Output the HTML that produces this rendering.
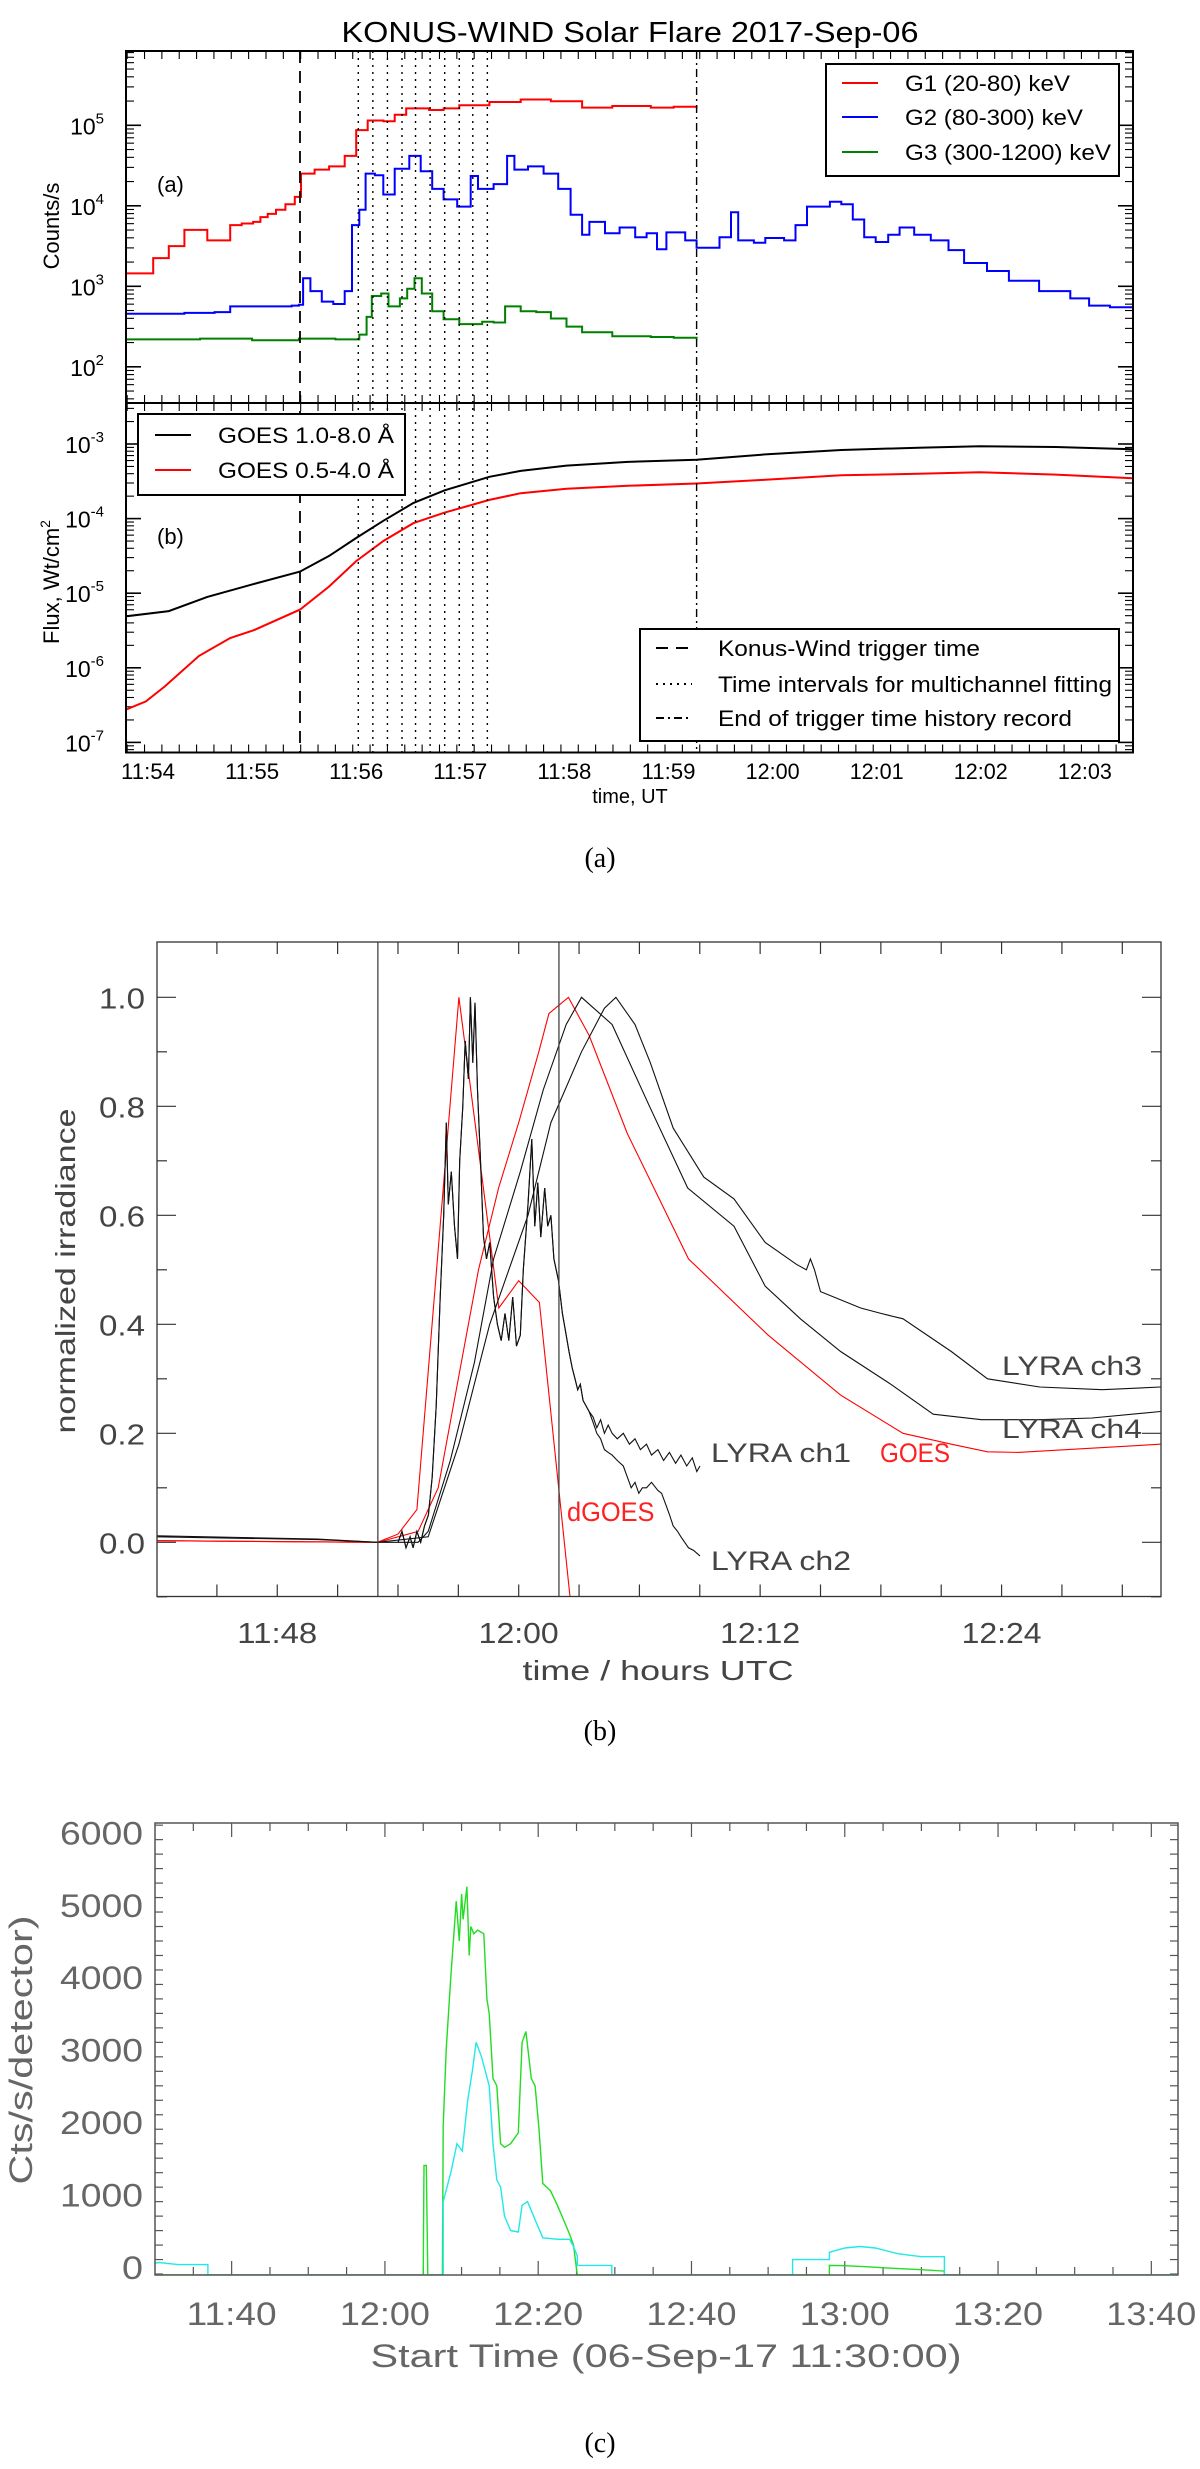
<!DOCTYPE html>
<html><head><meta charset="utf-8">
<style>
html,body{margin:0;padding:0;background:#fff;}
svg{display:block;}
text{font-family:"Liberation Sans",Arial,sans-serif;}
.cap{font-family:"Liberation Serif","Times New Roman",serif;font-size:28px;fill:#000;}
</style></head>
<body>
<svg id="fig" xmlns="http://www.w3.org/2000/svg" width="1200" height="2469" viewBox="0 0 1200 2469">
  <rect x="0" y="0" width="1200" height="2469" fill="#fff"/>
  <defs>
    <clipPath id="clipA1"><rect x="126" y="51" width="1007" height="352"/></clipPath>
    <clipPath id="clipA2"><rect x="126" y="403" width="1007" height="350"/></clipPath>
    <clipPath id="clipB"><rect x="157" y="942" width="1004" height="655"/></clipPath>
    <clipPath id="clipC"><rect x="155" y="1823" width="1023" height="452"/></clipPath>
  </defs>
  <g id="panelA"></g>
  <g id="panelB"></g>
  <g id="panelC"></g>
  <text class="cap" x="600" y="867" text-anchor="middle">(a)</text>
  <text class="cap" x="600" y="1740" text-anchor="middle">(b)</text>
  <text class="cap" x="600" y="2452" text-anchor="middle">(c)</text>
</svg>
<script>
// ===== Panel A data (minutes since 11:54, log10 values) =====
const g1Time=[-0.21,0.05,0.2,0.35,0.51,0.57,0.71,0.79,0.9,1.01,1.08,1.15,1.23,1.32,1.41,1.47,1.60,1.74,1.89,2.00,2.11,2.26,2.37,2.48,2.70,2.84,2.99,3.28,3.58,3.87,4.17,4.46,4.83,5.05,5.27];
const g1Log=[3.16,3.35,3.5,3.70,3.70,3.57,3.57,3.76,3.78,3.80,3.86,3.9,3.95,4.02,4.11,4.40,4.45,4.49,4.62,4.94,5.06,5.05,5.13,5.21,5.19,5.21,5.25,5.29,5.32,5.30,5.22,5.24,5.22,5.23,5.21];
const g2Time=[-0.21,0.35,0.64,0.79,1.08,1.38,1.45,1.49,1.56,1.67,1.78,1.89,1.96,2.03,2.09,2.18,2.26,2.37,2.51,2.62,2.73,2.84,2.97,3.10,3.17,3.32,3.45,3.52,3.65,3.80,3.94,4.06,4.17,4.24,4.39,4.53,4.68,4.79,4.89,4.98,5.16,5.27,5.49,5.60,5.67,5.82,5.93,6.11,6.22,6.33,6.55,6.66,6.77,6.88,6.99,7.11,7.22,7.36,7.52,7.69,7.84,8.06,8.27,8.56,8.86,9.04,9.24,9.46];
const g2Log=[2.66,2.67,2.68,2.75,2.75,2.76,2.77,3.10,2.94,2.81,2.78,2.94,3.76,3.95,4.40,4.38,4.14,4.46,4.62,4.43,4.21,4.08,3.99,4.37,4.21,4.27,4.62,4.45,4.49,4.40,4.21,3.89,3.64,3.80,3.66,3.73,3.61,3.66,3.46,3.67,3.57,3.48,3.61,3.92,3.57,3.54,3.60,3.57,3.76,3.99,4.05,4.02,3.83,3.61,3.55,3.64,3.73,3.64,3.57,3.45,3.29,3.19,3.07,2.94,2.85,2.76,2.74,2.72];
const g3Time=[-0.21,0.5,1.0,1.45,1.8,2.03,2.10,2.15,2.24,2.31,2.42,2.49,2.56,2.63,2.73,2.84,2.99,3.21,3.32,3.43,3.58,3.73,3.87,4.02,4.17,4.46,4.83,5.05,5.27];
const g3Log=[2.34,2.35,2.33,2.35,2.34,2.40,2.62,2.88,2.91,2.75,2.85,2.97,3.10,2.91,2.69,2.59,2.53,2.56,2.55,2.75,2.69,2.68,2.60,2.50,2.43,2.38,2.37,2.36,2.34];
const goesLongTime=[-0.21,0.20,0.57,1.01,1.46,1.74,2.00,2.26,2.55,2.85,3.28,3.58,4.02,4.61,5.27,5.93,6.66,7.40,7.99,8.72,9.46];
const goesLongLog=[-5.31,-5.24,-5.05,-4.88,-4.71,-4.50,-4.26,-4.03,-3.79,-3.62,-3.44,-3.36,-3.29,-3.24,-3.21,-3.14,-3.08,-3.05,-3.03,-3.04,-3.07];
const goesShortTime=[-0.21,-0.02,0.16,0.49,0.79,1.01,1.46,1.74,2.00,2.26,2.55,2.85,3.28,3.58,4.02,4.61,5.27,5.93,6.66,7.40,7.99,8.72,9.46];
const goesShortLog=[-6.56,-6.45,-6.25,-5.84,-5.60,-5.50,-5.22,-4.91,-4.57,-4.30,-4.06,-3.92,-3.75,-3.66,-3.60,-3.56,-3.53,-3.48,-3.42,-3.40,-3.38,-3.41,-3.46];
const xTicksA=['11:54','11:55','11:56','11:57','11:58','11:59','12:00','12:01','12:02','12:03'];
const decadesTop=[2,3,4,5];
const decadesBot=[-7,-6,-5,-4,-3];
const triggerMin=[1.46];
const fitIntervals=[2.02,2.16,2.30,2.44,2.57,2.71,2.85,2.99,3.12,3.26];
const endRecordMin=[5.27];

// ===== Panel B data (minutes since 12:00, normalized) =====
const ch12Time=[-6.0,-5.8,-5.6,-5.4,-5.25,-5.06,-4.87,-4.68,-4.49,-4.3,-4.1,-3.9,-3.73,-3.6,-3.5,-3.35,-3.19,-3.04,-2.93,-2.78,-2.66,-2.5,-2.4,-2.28,-2.17,-2.05,-1.9,-1.75,-1.6,-1.44,-1.25,-1.06,-0.87,-0.68,-0.49,-0.3,-0.11,0.08,0.23,0.46,0.65,0.8,0.95,1.1,1.29,1.44,1.6,1.75,1.98,2.17,2.36,2.5,2.66,2.8,2.93,3.06,3.2,3.35,3.5];
const ch12Val=[0.0,0.02,-0.01,0.01,-0.01,0.02,0.0,0.03,0.05,0.12,0.25,0.45,0.6,0.77,0.62,0.68,0.58,0.52,0.7,0.8,0.92,0.85,1.0,0.88,0.99,0.83,0.7,0.56,0.52,0.55,0.45,0.4,0.37,0.42,0.37,0.45,0.36,0.38,0.5,0.62,0.74,0.58,0.66,0.56,0.65,0.58,0.6,0.52,0.48,0.42,0.38,0.35,0.32,0.3,0.28,0.29,0.26,0.25,0.24];
const ch1TailTime=[3.7,3.88,4.07,4.26,4.45,4.64,4.9,5.2,5.5,5.78,6.05,6.35,6.6,6.92,7.2,7.49,7.8,8.06,8.35,8.63,8.85,9.01];
const ch1TailVal=[0.23,0.21,0.225,0.2,0.215,0.2,0.19,0.2,0.18,0.19,0.17,0.18,0.16,0.17,0.15,0.165,0.145,0.16,0.14,0.155,0.13,0.14];
const ch2TailTime=[3.7,3.88,4.07,4.26,4.45,4.64,4.9,5.2,5.4,5.59,5.78,5.97,6.15,6.35,6.6,6.92,7.1,7.3,7.5,7.68,7.9,8.06,8.25,8.44,8.7,9.01];
const ch2TailVal=[0.22,0.2,0.19,0.17,0.165,0.16,0.15,0.14,0.12,0.1,0.11,0.09,0.1,0.1,0.11,0.095,0.09,0.07,0.05,0.03,0.02,0.01,0.0,-0.01,-0.015,-0.025];
const ch3Time=[-18,-10,-7,-4.5,-2.97,-1.44,0.46,1.6,3.12,4.26,4.83,5.78,6.54,7.68,9.2,10.7,12.25,13.8,14.3,14.5,14.7,15.0,17.0,18.0,19.1,21.5,23.3,25.9,29.0,31.9];
const ch3Val=[0.012,0.006,0.0,0.01,0.18,0.4,0.6,0.77,0.9,0.98,1.0,0.95,0.88,0.76,0.67,0.63,0.55,0.51,0.5,0.52,0.5,0.46,0.43,0.42,0.41,0.35,0.3,0.285,0.28,0.285];
const ch4Time=[-18,-10,-7,-5,-4.5,-3.4,-2.2,-1.25,0.08,1.22,2.36,3.12,4.64,6.5,8.4,10.7,12.25,14.0,16.0,18.5,20.6,23.0,25.9,28.5,31.9];
const ch4Val=[0.01,0.005,0.0,0.0,0.02,0.15,0.33,0.52,0.68,0.83,0.95,1.0,0.95,0.8,0.65,0.58,0.47,0.41,0.35,0.29,0.235,0.225,0.225,0.228,0.24];
const goesNormTime=[-18,-7,-5,-4,-3,-2,-1,0,1,1.5,2.47,3.5,5.4,8.44,12.4,16.0,19.1,21.5,23.3,24.8,31.9];
const goesNormVal=[0.003,0.0,0.02,0.1,0.3,0.5,0.65,0.77,0.9,0.97,1.0,0.93,0.75,0.52,0.38,0.27,0.2,0.18,0.166,0.165,0.18];
const dGoesTime=[-18,-7.03,-6.0,-5.06,-2.97,-0.99,0.0,1.03,2.55,3.2];
const dGoesVal=[0.003,0.0,0.015,0.06,1.0,0.43,0.48,0.44,-0.1,-0.3];
const xTicksB=['11:48','12:00','12:12','12:24'];
const xTicksBMin=[-12,0,12,24];
const yTicksB=[0.0,0.2,0.4,0.6,0.8,1.0];
const markerLinesB=[-7.0,2.0];

// ===== Panel C data (minutes since 11:30, counts) =====
const greenTime=[0,6.9,6.9,35.0,35.1,35.4,35.6,37.5,37.6,38.0,38.6,39.0,39.3,39.7,40.0,40.2,40.7,41.0,41.2,41.6,42.1,42.9,43.3,43.6,44.1,44.6,45.1,45.6,46.4,47.4,47.9,48.4,49.1,49.6,50.1,50.6,51.6,52.5,53.1,54.1,54.6,55.1,59.6,83.2,88.0,88.0,90,93,96,100,103,103,133.5];
const greenVal=[-113,-113,-113,-113,1400,1400,-113,-113,1950,3000,4000,4600,5050,4500,5150,4800,5250,4300,4700,4600,4650,4600,3700,3500,2600,2500,1700,1650,1700,1850,3100,3250,2600,2500,1900,1150,1050,850,700,450,300,-113,-113,-113,-113,20,15,0,-20,-40,-60,-113,-113];
const cyanTime=[0,0.5,3,6.9,6.9,37.6,37.6,38.6,39.4,40.1,40.8,41.4,41.9,42.6,43.6,44.1,44.6,45.1,45.6,46.4,47.4,47.9,48.6,49.6,50.6,52.6,54.1,54.6,55.1,55.1,59.6,59.6,83.2,83.2,88.0,88.0,90,92,94,97,100,103,103,133.5];
const cyanVal=[50,60,30,30,-113,-113,900,1300,1700,1600,2300,2700,3100,2900,2500,1700,1200,1100,700,500,480,850,900,650,400,380,380,280,150,20,20,-113,-113,100,100,200,260,280,260,180,140,140,-113,-113];
const yTicksC=[0,1000,2000,3000,4000,5000,6000];
const xTicksC=['11:40','12:00','12:20','12:40','13:00','13:20','13:40'];
const xTicksCMin=[10,30,50,70,90,110,130];

const NS='http://www.w3.org/2000/svg';
function mk(tag,attrs,parent){const e=document.createElementNS(NS,tag);for(const k in attrs)e.setAttribute(k,attrs[k]);parent.appendChild(e);return e;}
function pathLine(xs,ys,fx,fy){let d='';for(let i=0;i<xs.length;i++){d+=(i?'L':'M')+fx(xs[i]).toFixed(1)+' '+fy(ys[i]).toFixed(1);}return d;}
function pathStep(xs,ys,fx,fy){let d='M'+fx(xs[0]).toFixed(1)+' '+fy(ys[0]).toFixed(1);for(let i=1;i<xs.length;i++){d+='H'+fx(xs[i]).toFixed(1)+'V'+fy(ys[i]).toFixed(1);}return d;}

// ================= PANEL A =================
const A=document.getElementById('panelA');
const xA=m=>148+m*104.1;
const yA1=l=>125.3+(5-l)*80.5;
const yA2=l=>444+(-3-l)*74.6;
const AL=126,AR=1133,AT=51,AM=403,AB=752.5;

let t=mk('text',{x:630,y:42,'text-anchor':'middle','font-size':29,textLength:577,lengthAdjust:'spacingAndGlyphs',fill:'#000'},A);
t.textContent='KONUS-WIND Solar Flare 2017-Sep-06';



for(let s=-12;s<=567;s+=10){
  const m=s/60,x=xA(m);if(x<AL||x>AR)continue;
  const major=(s%60===0);const L=major?15:8;
  for(const [y0,dir] of [[AT,1],[AM,-1],[AM,1],[AB,-1]]){
    const tk=mk('line',{x1:x,y1:y0,x2:x,y2:y0+dir*L,stroke:'#000','stroke-width':major?1.6:1.1},A);
    
    
  }
}
xTicksA.forEach((lab,i)=>{
  const tl=mk('text',{x:xA(i),y:779,'text-anchor':'middle','font-size':22,textLength:54,lengthAdjust:'spacingAndGlyphs',fill:'#000'},A);
  tl.textContent=lab;
  
  
});
t=mk('text',{x:630,y:803,'text-anchor':'middle','font-size':20,fill:'#000'},A);
t.textContent='time, UT';



function logTicks(fy,lo,hi,top,bot,decades){
  for(let d=lo;d<=hi;d++){
    for(let k=1;k<=9;k++){
      const y=fy(d+Math.log10(k));if(y<top-0.5||y>bot+0.5)continue;
      const L=k===1?15:8;
      for(const [x0,dir] of [[AL,1],[AR,-1]]){
        const tk=mk('line',{x1:x0,y1:y,x2:x0+dir*L,y2:y,stroke:'#000','stroke-width':k===1?1.6:1.1},A);
        
        
      }
    }
  }
  decades.forEach(d=>{
    const tl=mk('text',{x:104,y:fy(d)+9,'text-anchor':'end','font-size':23,fill:'#000'},A);
    tl.textContent='10';
    const sp=mk('tspan',{dy:-11,'font-size':15},tl);sp.textContent=String(d);
    
    
  });
}
logTicks(yA1,1,6,AT,AM,decadesTop);
logTicks(yA2,-8,-2,AM,AB,decadesBot);

t=mk('text',{transform:'translate(59,226) rotate(-90)','text-anchor':'middle','font-size':22,fill:'#000'},A);
t.textContent='Counts/s';


t=mk('text',{transform:'translate(59,582) rotate(-90)','text-anchor':'middle','font-size':22,fill:'#000'},A);
t.textContent='Flux, Wt/cm';
let sp=mk('tspan',{dy:-9,'font-size':14},t);sp.textContent='2';



const gA1=mk('g',{'clip-path':'url(#clipA1)'},A);


[[g1Time,g1Log,'#ff0000','g1-series'],[g2Time,g2Log,'#0000ff','g2-series'],[g3Time,g3Log,'#008000','g3-series']].forEach(([xs,ys,c,n])=>{
  const p=mk('path',{d:pathStep(xs,ys,xA,yA1),fill:'none',stroke:c,'stroke-width':2},gA1);
  
  
});
const gA2=mk('g',{'clip-path':'url(#clipA2)'},A);


[[goesLongTime,goesLongLog,'#000','goes-long-series'],[goesShortTime,goesShortLog,'#ff0000','goes-short-series']].forEach(([xs,ys,c,n])=>{
  const p=mk('path',{d:pathLine(xs,ys,xA,yA2),fill:'none',stroke:c,'stroke-width':2},gA2);
  
  
});
triggerMin.forEach(m=>{
  const l=mk('line',{x1:xA(m),y1:AT,x2:xA(m),y2:AB,stroke:'#000','stroke-width':1.8,'stroke-dasharray':'12,8'},A);
  
  
});
fitIntervals.forEach(m=>{
  const l=mk('line',{x1:xA(m),y1:AT,x2:xA(m),y2:AB,stroke:'#000','stroke-width':1.4,'stroke-dasharray':'2,5'},A);
  
  
});
endRecordMin.forEach(m=>{
  const l=mk('line',{x1:xA(m),y1:AT,x2:xA(m),y2:AB,stroke:'#000','stroke-width':1.4,'stroke-dasharray':'8,4,2,4'},A);
  
  
});
let f=mk('rect',{x:AL,y:AT,width:AR-AL,height:AB-AT,fill:'none',stroke:'#000','stroke-width':2},A);


f=mk('line',{x1:AL,y1:AM,x2:AR,y2:AM,stroke:'#000','stroke-width':2},A);


t=mk('text',{x:157,y:192,'font-size':22,fill:'#000'},A);t.textContent='(a)';


t=mk('text',{x:157,y:544,'font-size':22,fill:'#000'},A);t.textContent='(b)';



function legend(box,items,name){
  const g=mk('g',{},A);
  
  
  const r=mk('rect',{x:box[0],y:box[1],width:box[2]-box[0],height:box[3]-box[1],fill:'#fff',stroke:'#000','stroke-width':2},g);
  
  
  items.forEach(it=>{
    const ln=mk('line',{x1:it.lx1,y1:it.y,x2:it.lx2,y2:it.y,stroke:it.c,'stroke-width':2,'stroke-dasharray':it.dash||'none'},g);
    
    
    const tx=mk('text',{x:it.tx,y:it.y+8,'font-size':22,fill:'#000'},g);
    if(it.tl){tx.setAttribute('textLength',it.tl);tx.setAttribute('lengthAdjust','spacingAndGlyphs');}
    tx.textContent=it.t;
    
    
  });
}
legend([826,64,1119,176],[
 {lx1:842,lx2:878,y:83,c:'#ff0000',tx:905,t:'G1 (20-80) keV',tl:165},
 {lx1:842,lx2:878,y:117,c:'#0000ff',tx:905,t:'G2 (80-300) keV',tl:178},
 {lx1:842,lx2:878,y:152,c:'#008000',tx:905,t:'G3 (300-1200) keV',tl:206}],'legend-konus');
legend([138,414,405,495],[
 {lx1:155,lx2:191,y:435,c:'#000',tx:218,t:'GOES 1.0-8.0 Å',tl:176},
 {lx1:155,lx2:191,y:470,c:'#ff0000',tx:218,t:'GOES 0.5-4.0 Å',tl:176}],'legend-goes');
legend([640,629,1119,741],[
 {lx1:656,lx2:692,y:648,c:'#000',dash:'12,8',tx:718,t:'Konus-Wind trigger time',tl:262},
 {lx1:656,lx2:692,y:684,c:'#000',dash:'2,5',tx:718,t:'Time intervals for multichannel fitting',tl:394},
 {lx1:656,lx2:692,y:718,c:'#000',dash:'8,4,2,4',tx:718,t:'End of trigger time history record',tl:354}],'legend-markers');

// ================= PANEL B =================
const B=document.getElementById('panelB');
const xB=m=>518.7+m*20.12;
const yB=v=>1542.3-v*545;
const BL=157,BR=1161,BT=942,BBm=1596.5;
const tc='#333';
for(let m=-18;m<=31;m+=3){const x=xB(m);if(x<=BL||x>=BR)continue;
  for(const [y0,dir] of [[BT,1],[BBm,-1]]){
    const tk=mk('line',{x1:x,y1:y0,x2:x,y2:y0+dir*12,stroke:tc,'stroke-width':1.2},B);
    
    
  }}
for(let k=-1;k<=10;k++){const v=k/10,y=yB(v);const L=(k%2===0)?19:10;
  for(const [x0,dir] of [[BL,1],[BR,-1]]){
    const tk=mk('line',{x1:x0,y1:y,x2:x0+dir*L,y2:y,stroke:tc,'stroke-width':1.2},B);
    
    
  }}
xTicksB.forEach((lab,i)=>{
  const tl=mk('text',{x:xB(xTicksBMin[i]),y:1643,'text-anchor':'middle','font-size':29,textLength:80,lengthAdjust:'spacingAndGlyphs',fill:'#444'},B);
  tl.textContent=lab;
  
  
});
yTicksB.forEach(v=>{
  const tl=mk('text',{x:145,y:yB(v)+11,'text-anchor':'end','font-size':29,textLength:46,lengthAdjust:'spacingAndGlyphs',fill:'#444'},B);
  tl.textContent=v.toFixed(1);
  
  
});
t=mk('text',{x:658,y:1680,'text-anchor':'middle','font-size':28,textLength:271,lengthAdjust:'spacingAndGlyphs',fill:'#444'},B);
t.textContent='time / hours UTC';


t=mk('text',{transform:'translate(75,1271) rotate(-90)','text-anchor':'middle','font-size':28,textLength:325,lengthAdjust:'spacingAndGlyphs',fill:'#444'},B);
t.textContent='normalized irradiance';


const gB=mk('g',{'clip-path':'url(#clipB)'},B);


const ch1T=ch12Time.concat(ch1TailTime),ch1V=ch12Val.concat(ch1TailVal);
const ch2T=ch12Time.concat(ch2TailTime),ch2V=ch12Val.concat(ch2TailVal);
[[goesNormTime,goesNormVal,'#ff0000','goes-norm-series'],[dGoesTime,dGoesVal,'#ff0000','dgoes-series'],
 [ch3Time,ch3Val,'#111','lyra-ch3-series'],[ch4Time,ch4Val,'#111','lyra-ch4-series'],
 [ch2T,ch2V,'#111','lyra-ch2-series'],[ch1T,ch1V,'#111','lyra-ch1-series']].forEach(([xs,ys,c,n])=>{
  const p=mk('path',{d:pathLine(xs,ys,xB,yB),fill:'none',stroke:c,'stroke-width':1.1},gB);
  
  
});
markerLinesB.forEach(m=>{
  const l=mk('line',{x1:xB(m),y1:BT,x2:xB(m),y2:BBm,stroke:'#444','stroke-width':1.3},B);
  
  
});
f=mk('rect',{x:BL,y:BT,width:BR-BL,height:BBm-BT,fill:'none',stroke:'#333','stroke-width':1.3},B);


[['LYRA ch3',1002,1375,'#444','label-lyra-ch3'],['LYRA ch4',1002,1438,'#444','label-lyra-ch4'],
 ['LYRA ch1',711,1462,'#444','label-lyra-ch1'],['GOES',880,1462,'#ff2020','label-goes'],
 ['dGOES',567,1521,'#ff2020','label-dgoes'],['LYRA ch2',711,1570,'#444','label-lyra-ch2']].forEach(([s,x,y,c,n])=>{
  const tl=mk('text',{x:x,y:y,'font-size':27,fill:c,textLength:s.length*17.5,lengthAdjust:'spacingAndGlyphs'},B);
  tl.textContent=s;
  
  
});

// ================= PANEL C =================
const C=document.getElementById('panelC');
const xC=m=>155+m*7.664;
const yC=v=>2266.8-v*0.0724;
const CL=155,CR=1178,CT=1823,CB=2275;
const cc='#555';
for(let m=5;m<=133;m+=5){const x=xC(m);
  for(const [y0,dir] of [[CT,1],[CB,-1]]){
    const tk=mk('line',{x1:x,y1:y0,x2:x,y2:y0+dir*((m-10)%20===0?14:8),stroke:cc,'stroke-width':1.2},C);
    
    
  }}
for(let v=-100;v<=6100;v+=200){const y=yC(v);if(y<CT||y>CB)continue;const L=(v%1000===0)?16:8;
  for(const [x0,dir] of [[CL,1],[CR,-1]]){
    const tk=mk('line',{x1:x0,y1:y,x2:x0+dir*L,y2:y,stroke:cc,'stroke-width':1.2},C);
    
    
  }}
xTicksC.forEach((lab,i)=>{
  const tl=mk('text',{x:xC(xTicksCMin[i]),y:2325,'text-anchor':'middle','font-size':32,textLength:90,lengthAdjust:'spacingAndGlyphs',fill:'#666'},C);
  tl.textContent=lab;
  
  
});
yTicksC.forEach(v=>{
  const tl=mk('text',{x:143,y:yC(v)+12,'text-anchor':'end','font-size':32,textLength:v===0?21:83,lengthAdjust:'spacingAndGlyphs',fill:'#666'},C);
  tl.textContent=String(v);
  
  
});
t=mk('text',{x:666,y:2367,'text-anchor':'middle','font-size':32,textLength:591,lengthAdjust:'spacingAndGlyphs',fill:'#666'},C);
t.textContent='Start Time (06-Sep-17 11:30:00)';


t=mk('text',{transform:'translate(32,2050) rotate(-90)','text-anchor':'middle','font-size':32,textLength:269,lengthAdjust:'spacingAndGlyphs',fill:'#666'},C);
t.textContent='Cts/s/detector)';


const gC=mk('g',{'clip-path':'url(#clipC)'},C);


let pc=mk('path',{d:pathLine(greenTime,greenVal,xC,yC),fill:'none',stroke:'#22dd22','stroke-width':1.4},gC);


pc=mk('path',{d:pathLine(cyanTime,cyanVal,xC,yC),fill:'none',stroke:'#22e8e8','stroke-width':1.4},gC);


f=mk('rect',{x:CL,y:CT,width:CR-CL,height:CB-CT,fill:'none',stroke:'#555','stroke-width':1.5},C);


</script>
</body></html>
